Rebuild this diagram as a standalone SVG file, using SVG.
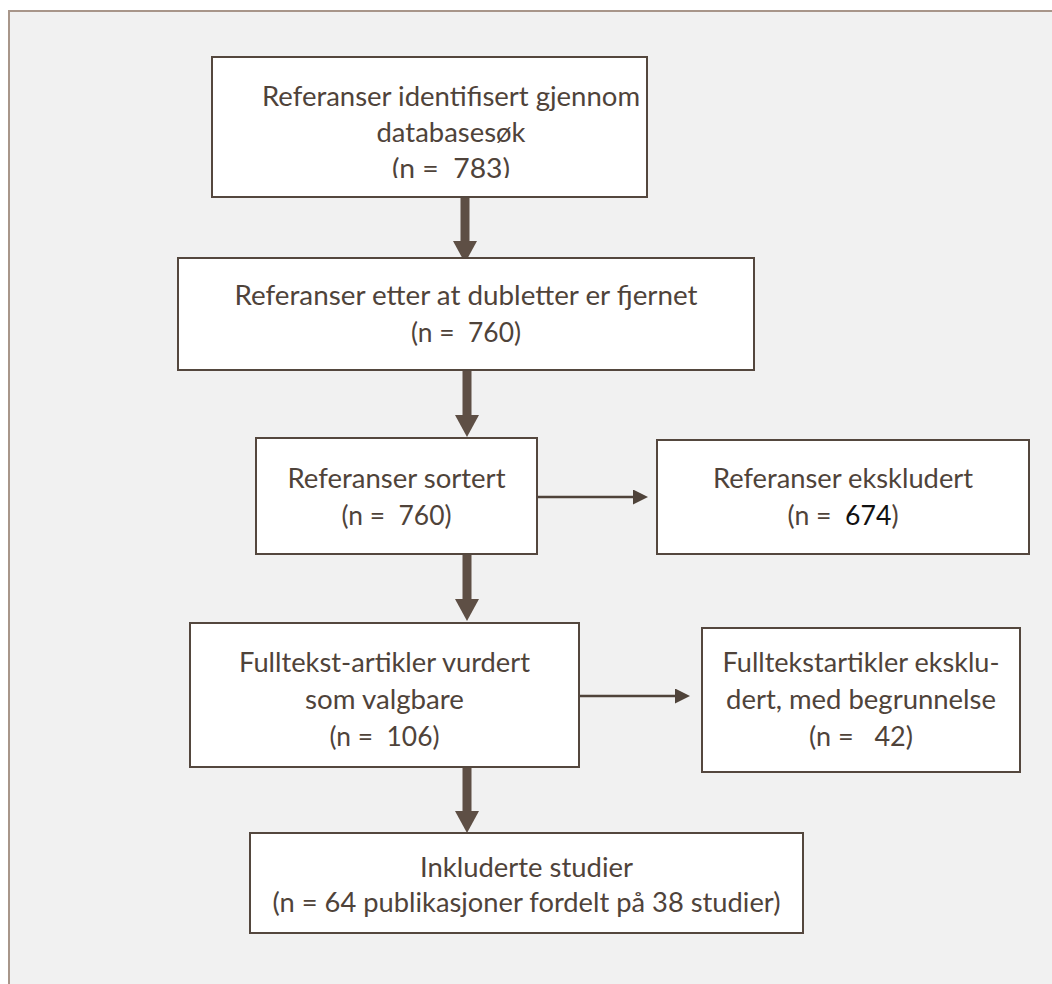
<svg xmlns="http://www.w3.org/2000/svg" width="1052" height="984" viewBox="0 0 1052 984">
<defs>
<style>
.frame{fill:#f1f1f1;stroke:#a8968a;stroke-width:2}
.box{fill:#ffffff;stroke:#54473e;stroke-width:2}
.t{font-family:Lato,"Open Sans","Liberation Sans",sans-serif;font-size:27px;fill:#4f433a;text-anchor:middle;white-space:pre}
.blk{fill:#111111}
.thick{stroke:#5e4f45;stroke-width:9;fill:none}
.thin{stroke:#4f433a;stroke-width:2.5;fill:none}
</style>
<marker id="big" markerUnits="userSpaceOnUse" viewBox="0 0 22 24" markerWidth="22" markerHeight="24" refX="0" refY="12" orient="auto">
<path d="M0,0 L22,12 L0,24 Z" fill="#5e4f45"/>
</marker>
<marker id="small" markerUnits="userSpaceOnUse" viewBox="0 0 15 15" markerWidth="15" markerHeight="15" refX="0" refY="7.5" orient="auto">
<path d="M0,0 L15,7.5 L0,15 Z" fill="#4f433a"/>
</marker>
<clipPath id="clip1"><rect x="212" y="57" width="435" height="121"/></clipPath>
</defs>
<rect class="frame" x="9" y="11" width="1060" height="990"/>

<g id="connectors">
<line class="thick" x1="465" y1="198" x2="465" y2="241" marker-end="url(#big)"/>
<line class="thick" x1="467" y1="371" x2="467" y2="415" marker-end="url(#big)"/>
<line class="thin" x1="538" y1="497" x2="633" y2="497" marker-end="url(#small)"/>
<line class="thick" x1="467" y1="555" x2="467" y2="599" marker-end="url(#big)"/>
<line class="thin" x1="580" y1="696" x2="675" y2="696" marker-end="url(#small)"/>
<line class="thick" x1="467" y1="768" x2="467" y2="811" marker-end="url(#big)"/>
</g>

<g id="n1">
<rect class="box" x="212" y="57" width="435" height="140"/>
<g clip-path="url(#clip1)">
<text class="t" x="451" y="105.5" textLength="378" lengthAdjust="spacingAndGlyphs">Referanser identifisert gjennom</text>
<text class="t" x="451" y="141.5" textLength="149" lengthAdjust="spacingAndGlyphs">databasesøk</text>
<text class="t" x="451" y="177.5" textLength="118" lengthAdjust="spacingAndGlyphs">(n =  783)</text>
</g>
</g>

<g id="n2">
<rect class="box" x="178" y="258" width="576" height="112"/>
<text class="t" x="466" y="305" textLength="463" lengthAdjust="spacingAndGlyphs">Referanser etter at dubletter er fjernet</text>
<text class="t" x="466" y="341.5" textLength="110" lengthAdjust="spacingAndGlyphs">(n =  760)</text>
</g>

<g id="n3">
<rect class="box" x="256" y="438" width="281" height="116"/>
<text class="t" x="396.5" y="487.5" textLength="218" lengthAdjust="spacingAndGlyphs">Referanser sortert</text>
<text class="t" x="396.5" y="525" textLength="110" lengthAdjust="spacingAndGlyphs">(n =  760)</text>
</g>

<g id="n4">
<rect class="box" x="657" y="440" width="372" height="114"/>
<text class="t" x="843" y="487.5" textLength="260" lengthAdjust="spacingAndGlyphs">Referanser ekskludert</text>
<text class="t" x="843" y="525" textLength="111" lengthAdjust="spacingAndGlyphs">(n =  <tspan class="blk">674</tspan>)</text>
</g>

<g id="n5">
<rect class="box" x="190" y="623" width="389" height="144"/>
<text class="t" x="384.5" y="672" textLength="291" lengthAdjust="spacingAndGlyphs">Fulltekst-artikler vurdert</text>
<text class="t" x="384.5" y="708.5" textLength="159" lengthAdjust="spacingAndGlyphs">som valgbare</text>
<text class="t" x="384.5" y="745.5" textLength="110" lengthAdjust="spacingAndGlyphs">(n =  106)</text>
</g>

<g id="n6">
<rect class="box" x="702" y="628" width="318" height="144"/>
<text class="t" x="861" y="672" textLength="277" lengthAdjust="spacingAndGlyphs">Fulltekstartikler eksklu-</text>
<text class="t" x="861" y="708.5" textLength="270" lengthAdjust="spacingAndGlyphs">dert, med begrunnelse</text>
<text class="t" x="861" y="745.5" textLength="104" lengthAdjust="spacingAndGlyphs">(n =   42)</text>
</g>

<g id="n7">
<rect class="box" x="250" y="833" width="553" height="100"/>
<text class="t" x="526.5" y="877" textLength="213" lengthAdjust="spacingAndGlyphs">Inkluderte studier</text>
<text class="t" x="526.5" y="912" textLength="508" lengthAdjust="spacingAndGlyphs">(n = 64 publikasjoner fordelt på 38 studier)</text>
</g>
</svg>
